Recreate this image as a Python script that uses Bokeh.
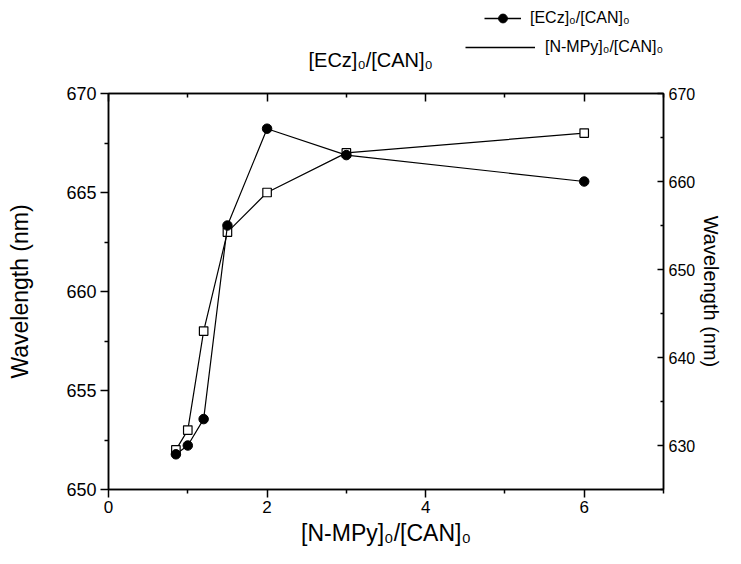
from bokeh.plotting import figure
from bokeh.layouts import column
from bokeh.models import (LinearAxis, Range1d, FixedTicker, Legend, LegendItem, Label)
from bokeh.embed import file_html
from bokeh.resources import INLINE

# ---- data ----
x_ratio = [0.85, 1.0, 1.2, 1.5, 2.0, 3.0, 6.0]
ecz_wavelength = [629, 630, 633, 655, 666, 663, 660]      # right axis
nmpy_wavelength = [652, 653, 658, 663, 665, 667, 668]     # left axis

x_ticks = [0, 2, 4, 6]
x_minor = [1, 3, 5, 7]
left_ticks = [650, 655, 660, 665, 670]
left_minor = [652.5, 657.5, 662.5, 667.5]
right_ticks = [630, 640, 650, 660, 670]
right_minor = [625, 635, 645, 655, 665]

ecz_label = "[ECz]\u2080/[CAN]\u2080"
nmpy_label = "[N-MPy]\u2080/[CAN]\u2080"
x_title = "[N-MPy]\u2080/[CAN]\u2080"
top_title = "[ECz]\u2080/[CAN]\u2080"
y_title = "Wavelength (nm)"

FONT = "Liberation Sans"
W = 725
TOP_H = 85
NAN = [float("nan")]

# ---------- header strip (legend + top title) ----------
hdr = figure(width=W, height=TOP_H, output_backend="svg", toolbar_location=None,
             x_range=Range1d(0, 1), y_range=Range1d(0, 1),
             x_axis_type=None, y_axis_type=None, min_border=0,
             min_border_left=0, min_border_right=0, min_border_top=0, min_border_bottom=0,
             background_fill_color="white", border_fill_color="white")
hdr.frame_align = False
hdr.grid.visible = False
hdr.outline_line_color = None
# legend-only renderers (no visible data)
h_ci_line = hdr.line(x=NAN, y=NAN, line_color="black", line_width=1.4)
h_ci_pts = hdr.scatter(x=NAN, y=NAN, marker="circle", fill_color="black", line_color="black")
h_sq_line = hdr.line(x=NAN, y=NAN, line_color="black", line_width=1.4)

leg1 = Legend(items=[LegendItem(label=ecz_label, renderers=[h_ci_line, h_ci_pts])],
              location=(484, 56), glyph_width=37, glyph_height=22, label_standoff=9,
              padding=0, margin=0, border_line_color=None, background_fill_alpha=0,
              label_text_font=FONT, label_text_font_size="16px", label_text_color="black")
leg2 = Legend(items=[LegendItem(label=nmpy_label, renderers=[h_sq_line])],
              location=(465, 27), glyph_width=70, glyph_height=22, label_standoff=10,
              padding=0, margin=0, border_line_color=None, background_fill_alpha=0,
              label_text_font=FONT, label_text_font_size="16px", label_text_color="black")
hdr.add_layout(leg1, "center")
hdr.add_layout(leg2, "center")
hdr.add_layout(Label(x=308, y=26, x_units="screen", y_units="screen", text=top_title,
                     text_font=FONT, text_font_size="20px", text_baseline="middle",
                     text_align="left", text_color="black"))

# ---------- main chart ----------
p = figure(width=W, height=548 - TOP_H, output_backend="svg", toolbar_location=None,
           x_range=Range1d(0, 7), y_range=Range1d(650, 670),
           min_border_left=108, min_border_right=58, min_border_top=8, min_border_bottom=58,
           background_fill_color="white", border_fill_color="white")
p.frame_align = False
p.grid.visible = False
p.outline_line_color = "black"
p.outline_line_width = 1.5
p.extra_y_ranges = {"right": Range1d(625, 670)}

# squares (left axis)
p.line(x_ratio, nmpy_wavelength, line_color="black", line_width=1.2)
p.scatter(x_ratio, nmpy_wavelength, marker="square", size=8.5, fill_color="white",
          line_color="black", line_width=1.2)
# circles (right axis)
p.line(x_ratio, ecz_wavelength, line_color="black", line_width=1.2, y_range_name="right")
p.scatter(x_ratio, ecz_wavelength, marker="circle", size=9.5, fill_color="black",
          line_color="black", y_range_name="right")


def style(ax, ticks, minor, tick_in, tick_out, mtick_in, mtick_out):
    ax.ticker = FixedTicker(ticks=ticks, minor_ticks=minor)
    ax.axis_line_color = "black"
    ax.axis_line_width = 1.5
    ax.major_tick_line_color = "black"
    ax.major_tick_line_width = 1.5
    ax.minor_tick_line_color = "black"
    ax.minor_tick_line_width = 1.5
    ax.major_tick_in = tick_in
    ax.major_tick_out = tick_out
    ax.minor_tick_in = mtick_in
    ax.minor_tick_out = mtick_out
    ax.major_label_text_font = FONT
    ax.major_label_text_color = "black"
    ax.axis_label_text_font = FONT
    ax.axis_label_text_font_style = "normal"
    ax.axis_label_text_color = "black"


# bottom axis
xa = p.xaxis[0]
style(xa, x_ticks, x_minor, 0, 8, 0, 4)
xa.major_label_text_font_size = "17px"
xa.major_label_standoff = 3
xa.axis_label = x_title
xa.axis_label_text_font_size = "23px"
xa.axis_label_standoff = 4

# left axis
ya = p.yaxis[0]
style(ya, left_ticks, left_minor, 0, 8, 0, 4)
ya.major_label_text_font_size = "18px"
ya.major_label_standoff = 4
ya.axis_label = y_title
ya.axis_label_text_font_size = "23px"
ya.axis_label_standoff = 30

# right axis
ra = LinearAxis(y_range_name="right")
style(ra, right_ticks, right_minor, 6, 0, 3, 0)
ra.major_label_text_font_size = "16px"
ra.major_label_standoff = 5
ra.axis_label = y_title
ra.axis_label_text_font_size = "20px"
ra.axis_label_standoff = 2
p.add_layout(ra, "right")

# top axis (ticks only)
ta = LinearAxis()
style(ta, x_ticks, x_minor, 8, 0, 4, 0)
ta.major_label_text_color = None
ta.major_label_text_font_size = "1px"
ta.major_label_standoff = 0
p.add_layout(ta, "above")

layout = column(hdr, p, spacing=0)
open("out.html", "w").write(file_html(layout, INLINE))
